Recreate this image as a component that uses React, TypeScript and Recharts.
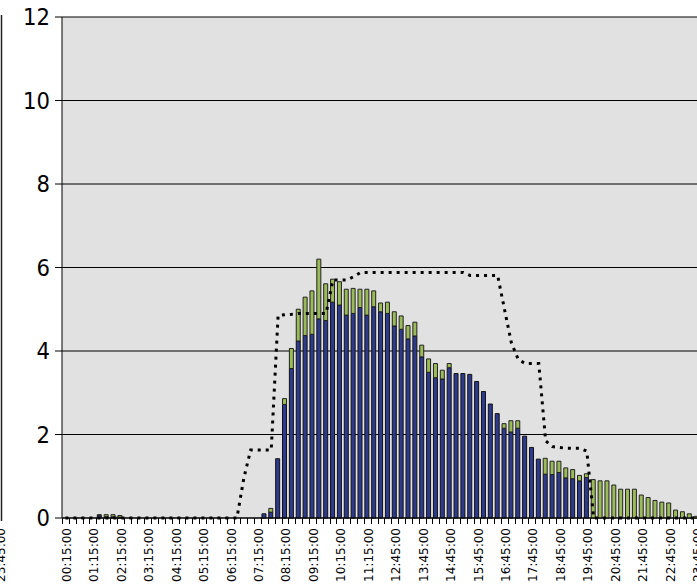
import React from 'react';
import {
  ComposedChart,
  Bar,
  Line,
  XAxis,
  YAxis,
  CartesianGrid
} from 'recharts';

// 15-minute slots; two slots around midday are missing from the log
const TIMES = [
  '00:15:00', '00:30:00', '00:45:00', '01:00:00', '01:15:00', '01:30:00', '01:45:00', '02:00:00',
  '02:15:00', '02:30:00', '02:45:00', '03:00:00', '03:15:00', '03:30:00', '03:45:00', '04:00:00',
  '04:15:00', '04:30:00', '04:45:00', '05:00:00', '05:15:00', '05:30:00', '05:45:00', '06:00:00',
  '06:15:00', '06:30:00', '06:45:00', '07:00:00', '07:15:00', '07:30:00', '07:45:00', '08:00:00',
  '08:15:00', '08:30:00', '08:45:00', '09:00:00', '09:15:00', '09:30:00', '09:45:00', '10:00:00',
  '10:15:00', '10:30:00', '10:45:00', '11:00:00', '11:15:00', '11:30:00', '11:45:00', '12:30:00',
  '12:45:00', '13:00:00', '13:15:00', '13:30:00', '13:45:00', '14:00:00', '14:15:00', '14:30:00',
  '14:45:00', '15:00:00', '15:15:00', '15:30:00', '15:45:00', '16:00:00', '16:15:00', '16:30:00',
  '16:45:00', '17:00:00', '17:15:00', '17:30:00', '17:45:00', '18:00:00', '18:15:00', '18:30:00',
  '18:45:00', '19:00:00', '19:15:00', '19:30:00', '19:45:00', '20:00:00', '20:15:00', '20:30:00',
  '20:45:00', '21:00:00', '21:15:00', '21:30:00', '21:45:00', '22:00:00', '22:15:00', '22:30:00',
  '22:45:00', '23:00:00', '23:15:00', '23:30:00', '23:45:00'
];

// lower (blue) part of each bar
const BASE_LOAD = [
  0, 0, 0, 0, 0, 0.06, 0.03, 0.03,
  0.02, 0, 0, 0, 0, 0, 0, 0,
  0, 0, 0, 0, 0, 0, 0, 0,
  0, 0, 0, 0, 0, 0.1, 0.14, 1.42,
  2.72, 3.58, 4.24, 4.37, 4.4, 4.77, 4.73, 5.17,
  5.1, 4.86, 4.9, 5.04, 4.86, 5.06, 4.94, 4.9,
  4.6, 4.52, 4.29, 4.36, 3.86, 3.49, 3.36, 3.33,
  3.6, 3.46, 3.46, 3.44, 3.27, 3.03, 2.73, 2.5,
  2.15, 2.06, 2.15, 1.96, 1.69, 1.41, 1.05, 1.04,
  1.09, 0.96, 0.94, 0.89, 0.97, 0, 0, 0,
  0, 0, 0, 0, 0, 0, 0, 0,
  0, 0, 0, 0, 0
];

// upper (green) part stacked on top
const EXTRA_LOAD = [
  0, 0, 0, 0, 0, 0.02, 0.05, 0.05,
  0.04, 0, 0, 0, 0, 0, 0, 0,
  0, 0, 0, 0, 0, 0, 0, 0,
  0, 0, 0, 0, 0, 0, 0.09, 0,
  0.14, 0.48, 0.76, 0.92, 1.04, 1.43, 0.88, 0.55,
  0.56, 0.62, 0.6, 0.44, 0.62, 0.38, 0.21, 0.27,
  0.34, 0.32, 0.32, 0.33, 0.28, 0.32, 0.34, 0.21,
  0.1, 0, 0, 0, 0, 0, 0, 0,
  0.11, 0.27, 0.18, 0, 0, 0, 0.38, 0.32,
  0.27, 0.24, 0.22, 0.13, 0.09, 0.92, 0.89, 0.89,
  0.79, 0.69, 0.69, 0.69, 0.55, 0.49, 0.42, 0.38,
  0.36, 0.19, 0.15, 0.1, 0.04
];

// dotted profile line
const PROFILE = [
  0, 0, 0, 0, 0, 0, 0, 0,
  0, 0, 0, 0, 0, 0, 0, 0,
  0, 0, 0, 0, 0, 0, 0, 0,
  0, 0, 0.95, 1.63, 1.63, 1.63, 1.63, 4.85,
  4.87, 4.88, 4.9, 4.9, 4.9, 4.9, 4.9, 5.7,
  5.7, 5.7, 5.78, 5.88, 5.88, 5.88, 5.88, 5.88,
  5.88, 5.88, 5.88, 5.88, 5.88, 5.88, 5.88, 5.88,
  5.88, 5.88, 5.88, 5.81, 5.81, 5.81, 5.81, 5.81,
  5.0, 4.2, 3.8, 3.7, 3.7, 3.7, 1.85, 1.71,
  1.69, 1.67, 1.67, 1.67, 1.6, 0, 0, 0,
  0, 0, 0, 0, 0, 0, 0, 0,
  0, 0, 0, 0, 0
];

const Y_TICKS = [0, 2, 4, 6, 8, 10, 12];

const data = TIMES.map((time, i) => ({
  time,
  base: BASE_LOAD[i],
  extra: EXTRA_LOAD[i],
  profile: PROFILE[i]
}));

const CHART_W = 705;
const CHART_H = 587;
const MARGIN = { top: 17, right: 5, bottom: 0, left: 0 };
const Y_AXIS_W = 62;
const X_AXIS_H = 69;
const PLOT_BOTTOM = CHART_H - MARGIN.bottom - X_AXIS_H;
const PITCH = (CHART_W - MARGIN.left - MARGIN.right - Y_AXIS_W) / TIMES.length;

const FONT = "'DejaVu Sans', Verdana, sans-serif";
const NAVY = '#2e3a8e';
const LEAF = '#9bbb59';

// tick marks sit between categories, a label every fourth slot
const TimeTick = (props: any) => {
  const { x, payload, index } = props;
  const i = payload?.index ?? index;
  const edge = Math.round(x - PITCH / 2) + 0.5;
  const lx = x + 1.5;
  const ly = PLOT_BOTTOM + 10;
  return (
    <g>
      <line x1={edge} x2={edge} y1={PLOT_BOTTOM} y2={PLOT_BOTTOM + 6} stroke="#000" />
      {i % 4 === 0 && (
        <text
          x={lx}
          y={ly}
          transform={`rotate(-90 ${lx} ${ly})`}
          textAnchor="end"
          dominantBaseline="central"
          fontSize={12}
          fontFamily={FONT}
          fill="#000"
        >
          {payload.value}
        </text>
      )}
    </g>
  );
};

export default function App() {
  return (
    <div
      style={{
        position: 'absolute',
        left: 0,
        top: 0,
        width: 697,
        height: 587,
        overflow: 'hidden',
        background: '#fff'
      }}
    >
      <ComposedChart width={CHART_W} height={CHART_H} data={data} margin={MARGIN} barGap={0}>
        <CartesianGrid vertical={false} stroke="#000" fill="#e1e1e1" fillOpacity={1} />
        <XAxis
          dataKey="time"
          interval={0}
          height={X_AXIS_H}
          tickLine={false}
          axisLine={{ stroke: '#000' }}
          tick={<TimeTick />}
        />
        <YAxis
          width={Y_AXIS_W}
          domain={[0, 12]}
          ticks={Y_TICKS}
          tickSize={7}
          tickMargin={5}
          axisLine={{ stroke: '#000' }}
          tickLine={{ stroke: '#000' }}
          tick={{ fill: '#000', fontSize: 23.5, fontFamily: "'DejaVu Sans Condensed', 'DejaVu Sans', sans-serif" }}
        />
        <Bar dataKey="base" stackId="load" fill={NAVY} stroke="#111" strokeWidth={1} barSize={4} isAnimationActive={false} />
        <Bar dataKey="extra" stackId="load" fill={LEAF} stroke="#222" strokeWidth={1} barSize={4} isAnimationActive={false} />
        <Line
          type="linear"
          dataKey="profile"
          stroke="#000"
          strokeWidth={3}
          strokeDasharray="3 5"
          dot={false}
          activeDot={false}
          isAnimationActive={false}
        />
      </ComposedChart>
      {/* edge of the neighbouring panel on the left */}
      <svg
        width={697}
        height={587}
        style={{ position: 'absolute', left: 0, top: 0, pointerEvents: 'none' }}
      >
        <line x1={1.5} x2={1.5} y1={15} y2={521} stroke="#222" strokeWidth={1.5} />
        <text
          x={1}
          y={528}
          transform="rotate(-90 1 528)"
          textAnchor="end"
          dominantBaseline="central"
          fontSize={12}
          fontFamily={FONT}
          fill="#000"
        >
          23:45:00
        </text>
      </svg>
    </div>
  );
}
